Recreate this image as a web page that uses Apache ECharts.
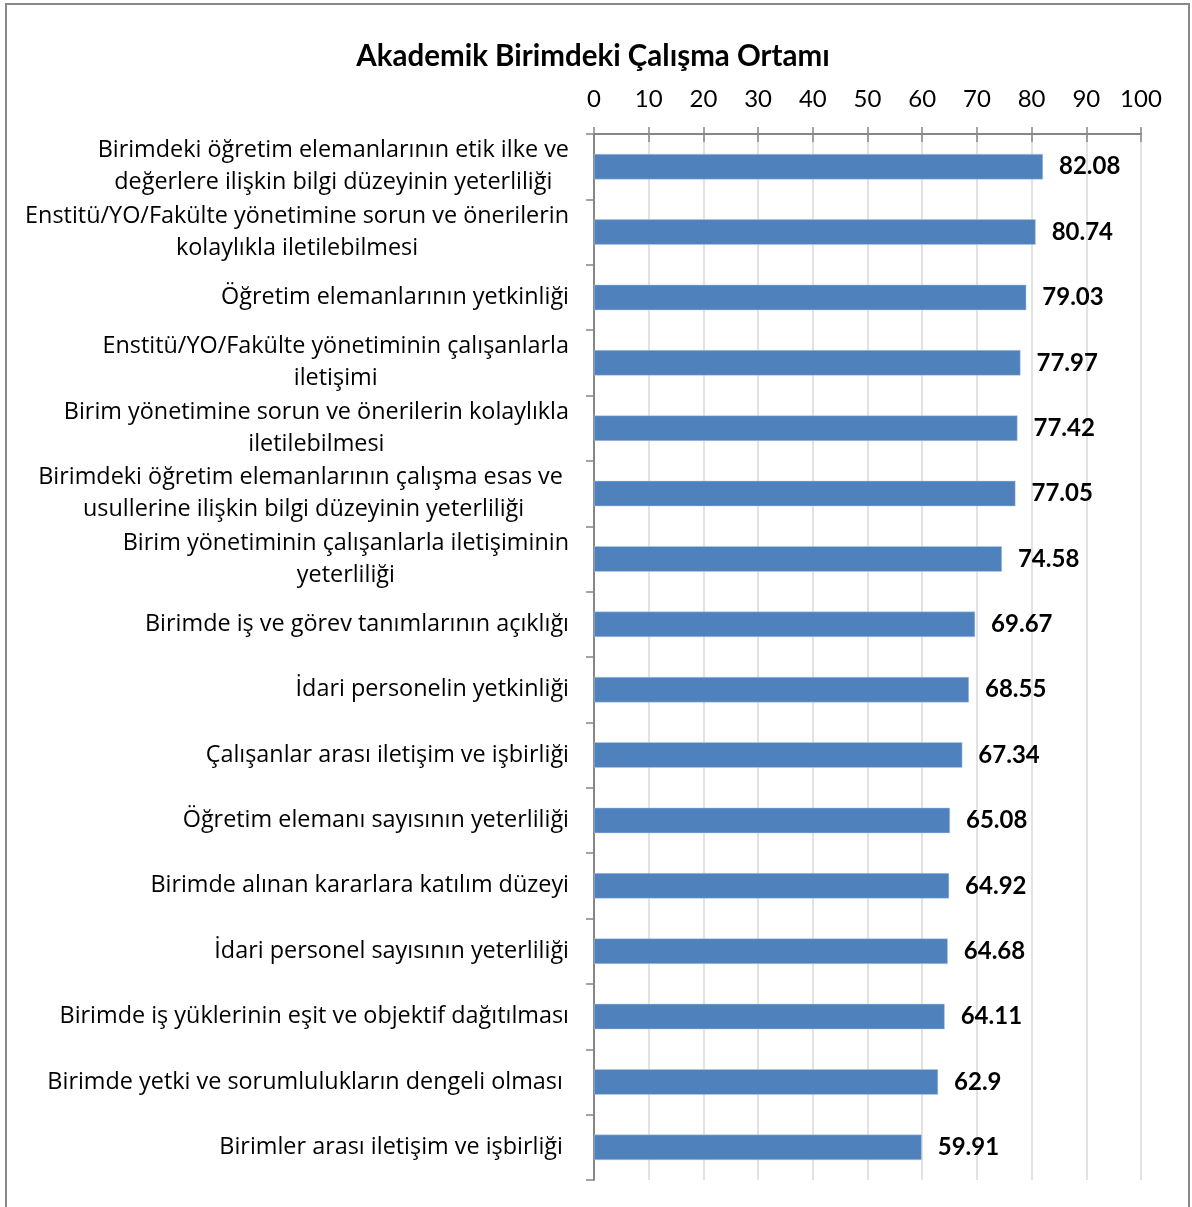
<!DOCTYPE html>
<html><head><meta charset="utf-8">
<script src="https://cdn.jsdelivr.net/npm/echarts@6/dist/echarts.min.js"></script>
<style>html,body{margin:0;padding:0;background:#fff}#c{width:1192px;height:1207px}</style>
</head><body><div id="c"></div>
<script>
const categories = [
  "Birimdeki öğretim elemanlarının etik ilke ve\ndeğerlere ilişkin bilgi düzeyinin yeterliliği",
  "Enstitü/YO/Fakülte yönetimine sorun ve önerilerin\nkolaylıkla iletilebilmesi",
  "Öğretim elemanlarının yetkinliği",
  "Enstitü/YO/Fakülte yönetiminin çalışanlarla\niletişimi",
  "Birim yönetimine sorun ve önerilerin kolaylıkla\niletilebilmesi",
  "Birimdeki öğretim elemanlarının çalışma esas ve \nusullerine ilişkin bilgi düzeyinin yeterliliği",
  "Birim yönetiminin çalışanlarla iletişiminin\nyeterliliği",
  "Birimde iş ve görev tanımlarının açıklığı",
  "İdari personelin yetkinliği",
  "Çalışanlar arası iletişim ve işbirliği",
  "Öğretim elemanı sayısının yeterliliği",
  "Birimde alınan kararlara katılım düzeyi",
  "İdari personel sayısının yeterliliği",
  "Birimde iş yüklerinin eşit ve objektif dağıtılması",
  "Birimde yetki ve sorumlulukların dengeli olması ",
  "Birimler arası iletişim ve işbirliği "
];
const values = [82.08, 80.74, 79.03, 77.97, 77.42, 77.05, 74.58, 69.67, 68.55, 67.34, 65.08, 64.92, 64.68, 64.11, 62.9, 59.91];
const titleText = "Akademik Birimdeki Çalışma Ortamı";
const xMin = 0, xMax = 100, xInterval = 10;

const font = "Lato, 'Open Sans', 'Noto Sans', sans-serif";
const font2 = "'Open Sans', Lato, 'Noto Sans', sans-serif";
const chart = echarts.init(document.getElementById('c'));
chart.setOption({
  animation: false,
  backgroundColor: '#fff',
  title: {
    text: titleText, left: 588, top: 36, textAlign: 'center',
    textStyle: { fontFamily: font, fontSize: 29.5, fontWeight: 'bold', color: '#000' }
  },
  graphic: [{
    type: 'rect', shape: { x: 6, y: 4, width: 1183, height: 1210 },
    style: { fill: 'none', stroke: '#898989', lineWidth: 2 }, silent: true, z: -1
  }],
  grid: { left: 594, right: 51, top: 134, bottom: 27, containLabel: false },
  xAxis: [{
    type: 'value', position: 'top', min: xMin, max: xMax, interval: xInterval,
    axisLine: { show: true, lineStyle: { color: '#868686', width: 2 } },
    axisTick: { show: true, inside: false, length: 7, lineStyle: { color: '#868686', width: 1.5 } },
    axisLabel: { fontFamily: font, fontSize: 24, color: '#000', margin: 23 },
    splitLine: { show: true, lineStyle: { color: '#d9d9d9', width: 1.5 } }
  }, {
    type: 'value', position: 'top', min: xMin, max: xMax, interval: xInterval,
    axisLine: { show: false },
    axisTick: { show: true, inside: true, length: 8, lineStyle: { color: '#868686', width: 1.5 } },
    axisLabel: { show: false }, splitLine: { show: false }
  }],
  yAxis: {
    type: 'category', data: categories, inverse: true,
    axisLine: { show: true, lineStyle: { color: '#868686', width: 2 } },
    axisTick: { show: true, length: 8, lineStyle: { color: '#868686', width: 1.5 } },
    axisLabel: {
      margin: 25, align: 'right',
      formatter: v => v.split('\n').map(l => '{c|' + l + '}').join('\n'),
      rich: { c: { fontFamily: font2, fontSize: 23.4, color: '#000', lineHeight: 32, align: 'center' } }
    }
  },
  series: [{
    type: 'bar', data: values, xAxisIndex: 0, barWidth: '39%',
    itemStyle: { color: '#4F81BD', borderColor: '#b9cde5', borderWidth: 0.5 },
    label: {
      show: true, position: 'right', distance: 16,
      fontFamily: font, fontSize: 24, fontWeight: 'bold', color: '#000'
    }
  }]
});
</script></body></html>
